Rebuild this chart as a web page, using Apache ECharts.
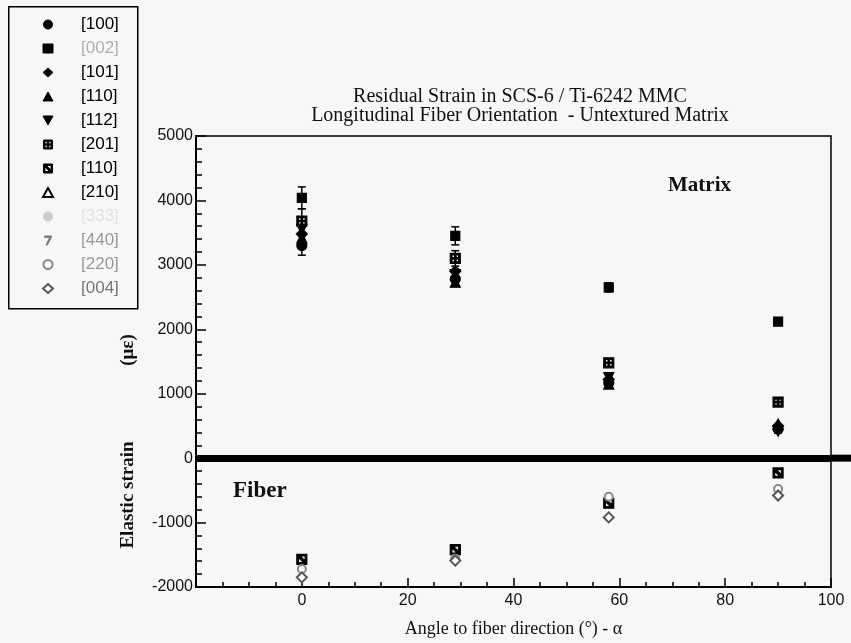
<!DOCTYPE html>
<html>
<head>
	<meta charset="utf-8">
	<title>Residual Strain in SCS-6 / Ti-6242 MMC</title>
	<script src="https://cdn.jsdelivr.net/npm/echarts@6/dist/echarts.min.js"></script>
	<style>
		body { margin: 0; background: #f7f7f7; }
		#main { width: 851px; height: 643px; }
	</style>
</head>
<body>
	<div id="main"></div>
<script>
	// angles (deg) where the measurements were taken
	var angles = [0, 29, 58, 90];
	var xTicks = [0, 20, 40, 60, 80, 100];

	// matrix reflections (micro-strain)
	var m100 = [3300, 2780, 1170, 450];
	var m002 = [4040, 3450, 2650, 2120];
	var m101 = [3480, 2900, 1220, 500];
	var m110 = [3420, 2730, 1150, 530];
	var m112 = [3550, 2850, 1250, 420];
	var m201 = [3680, 3100, 1480, 870];
	// fiber reflections
	var f110 = [-1570, -1420, -700, -230];
	var f210 = [];
	var f333 = [];
	var f440 = [];
	var f220 = [-1720, -1560, -600, -480];
	var f004 = [-1850, -1590, -920, -580];

	// error bar half widths
	var err002 = [170, 140, 70, 60];
	var err201 = [190, 120, 60, 50];
	var err100 = [150, 110, 80, 60];

	var labels = ['[100]', '[002]', '[101]', '[110]', '[112]', '[201]', '[110] ', '[210]', '[333]', '[440]', '[220]', '[004]'];

	function pts(vals) {
		var out = [];
		for (var i = 0; i < vals.length; i++) out.push([angles[i], vals[i]]);
		return out;
	}
	function bars(vals, errs) {
		var out = [];
		for (var i = 0; i < vals.length; i++) out.push([angles[i], vals[i] - errs[i], vals[i] + errs[i]]);
		return out;
	}

	var crossSq = 'path://M0,0H10V10H0Z M1.6,1.6V4.3H4.3V1.6Z M5.7,1.6V4.3H8.4V1.6Z M1.6,5.7V8.4H4.3V5.7Z M5.7,5.7V8.4H8.4V5.7Z';
	var diagSq = 'path://M0,0H10V10H0Z M1.6,1.6V8.4H8.4V1.6Z M1.6,1.6L3.2,1.6L8.4,6.8L8.4,8.4L6.8,8.4L1.6,3.2Z';
	var downTri = 'path://M0,0L10,0L5,9Z';
	var tick7 = 'path://M0,0H6V1.2L2.4,8H1.2L4.6,1.2H0Z';

	var defs = [
		{ name: labels[0], data: m100, symbol: 'circle', size: 10, color: '#000', text: '#000' },
		{ name: labels[1], data: m002, symbol: 'rect', size: 9, color: '#000', text: '#b0b0b0' },
		{ name: labels[2], data: m101, symbol: 'diamond', size: 11, color: '#000', text: '#000' },
		{ name: labels[3], data: m110, symbol: 'triangle', size: 10, color: '#000', text: '#000' },
		{ name: labels[4], data: m112, symbol: downTri, size: 10, color: '#000', text: '#000' },
		{ name: labels[5], data: m201, symbol: crossSq, size: 10, color: '#000', text: '#000' },
		{ name: labels[6], data: f110, symbol: diagSq, size: 10, color: '#000', text: '#000' },
		{ name: labels[7], data: f210, symbol: 'emptyTriangle', size: 10, color: '#000', text: '#000' },
		{ name: labels[8], data: f333, symbol: 'circle', size: 2, color: '#ccc', text: '#e2e2e2' },
		{ name: labels[9], data: f440, symbol: tick7, size: 7, color: '#777', text: '#999' },
		{ name: labels[10], data: f220, symbol: 'emptyCircle', size: 8, color: '#888', text: '#999' },
		{ name: labels[11], data: f004, symbol: 'emptyDiamond', size: 10, color: '#555', text: '#777' }
	];

	var series = [];
	var legendData = [];
	defs.forEach(function (d) {
		series.push({
			name: d.name,
			type: 'scatter',
			data: pts(d.data),
			symbol: d.symbol,
			symbolSize: d.size,
			itemStyle: { color: d.color, borderColor: d.color, borderWidth: 1.2, opacity: 1 },
			z: 5
		});
		legendData.push({ name: d.name, icon: d.symbol, itemStyle: { borderWidth: 1 }, textStyle: { color: d.text } });
	});

	// error bars
	var errSets = [bars(m002, err002), bars(m201, err201), bars(m100, err100)];
	errSets.forEach(function (set) {
		series.push({
			type: 'custom',
			silent: true,
			z: 4,
			data: set,
			renderItem: function (params, api) {
				var top = api.coord([api.value(0), api.value(2)]);
				var bot = api.coord([api.value(0), api.value(1)]);
				var st = { stroke: '#000', lineWidth: 1.5 };
				return {
					type: 'group',
					children: [
						{ type: 'line', shape: { x1: top[0], y1: top[1], x2: bot[0], y2: bot[1] }, style: st },
						{ type: 'line', shape: { x1: top[0] - 4, y1: top[1], x2: top[0] + 4, y2: top[1] }, style: st },
						{ type: 'line', shape: { x1: bot[0] - 4, y1: bot[1], x2: bot[0] + 4, y2: bot[1] }, style: st }
					]
				};
			}
		});
	});

	// thick zero line
	series[0].markLine = {
		silent: true,
		symbol: 'none',
		label: { show: false },
		lineStyle: { color: '#000', width: 7, type: 'solid' },
		data: [{ yAxis: 0 }]
	};

	var option = {
		backgroundColor: '#f7f7f7',
		animation: false,
		title: {
			text: 'Residual Strain in SCS-6 / Ti-6242 MMC\nLongitudinal Fiber Orientation  - Untextured Matrix',
			left: 515,
			top: 82,
			textAlign: 'center',
			textStyle: { fontFamily: 'Liberation Serif', fontWeight: 'normal', fontSize: 20, lineHeight: 19, color: '#111' }
		},
		legend: {
			orient: 'vertical',
			left: 42,
			top: 16,
			itemWidth: 10,
			itemHeight: 9,
			itemGap: 7,
			padding: 0,
			data: legendData,
			selectedMode: false,
			textStyle: { fontFamily: 'Liberation Sans', fontSize: 17, lineHeight: 17, padding: [0, 0, 0, 23] }
		},
		grid: {
			left: 196, right: 20, top: 136, bottom: 55,
			show: true, borderColor: '#000', borderWidth: 1.5, backgroundColor: 'transparent'
		},
		xAxis: {
			type: 'value',
			min: -20, max: 100, interval: 20,
			name: 'Angle to fiber direction (°) - α',
			nameLocation: 'middle',
			nameGap: 33,
			nameTextStyle: { fontFamily: 'Liberation Serif', fontSize: 18, color: '#111' },
			axisLine: { onZero: false, lineStyle: { color: '#000', width: 2 } },
			axisTick: { inside: true, length: 9, lineStyle: { color: '#000', width: 1.5 } },
			minorTick: { show: true, splitNumber: 4, length: 5, lineStyle: { color: '#000', width: 1.5 } },
			splitLine: { show: false },
			axisLabel: {
				fontFamily: 'Liberation Sans', fontSize: 16, color: '#111', margin: 6,
				formatter: function (v) { return xTicks.indexOf(v) >= 0 ? String(v) : ''; }
			}
		},
		yAxis: {
			type: 'value',
			min: -2000, max: 5000, interval: 1000,
			axisLine: { onZero: false, lineStyle: { color: '#000', width: 2 } },
			axisTick: { inside: true, length: 10, lineStyle: { color: '#000', width: 1.5 } },
			minorTick: { show: true, splitNumber: 5, length: 6, lineStyle: { color: '#000', width: 1.5 } },
			splitLine: { show: false },
			axisLabel: {
				fontFamily: 'Liberation Sans', fontSize: 16, color: '#111', margin: 3,
				formatter: function (v) { return String(v); }
			}
		},
		graphic: [
			{ type: 'rect', left: 8, top: 6, shape: { width: 129, height: 302 }, style: { fill: 'transparent', stroke: '#000', lineWidth: 1.5 }, z: -1 },
			{ type: 'text', x: 128, y: 495, rotation: Math.PI / 2, style: { text: 'Elastic strain', font: 'bold 19px "Liberation Serif"', fill: '#111', textAlign: 'center', textVerticalAlign: 'middle' } },
			{ type: 'text', x: 128, y: 350, rotation: Math.PI / 2, style: { text: '(με)', font: 'bold 19px "Liberation Serif"', fill: '#111', textAlign: 'center', textVerticalAlign: 'middle' } },
			{ type: 'text', left: 668, top: 175, style: { text: 'Matrix', font: 'bold 21px "Liberation Serif"', fill: '#111' } },
			{ type: 'text', left: 233, top: 480, style: { text: 'Fiber', font: 'bold 23px "Liberation Serif"', fill: '#111' } }
		],
		series: series
	};

	var chart = echarts.init(document.getElementById('main'));
	chart.setOption(option);

	// zero line runs past the frame to the page edge
	var y0 = chart.convertToPixel({ yAxisIndex: 0 }, 0);
	var xr = chart.convertToPixel({ xAxisIndex: 0 }, 100);
	chart.setOption({
		graphic: option.graphic.concat([
			{ type: 'rect', shape: { x: xr, y: y0 - 3.5, width: 851 - xr, height: 7 }, style: { fill: '#000' } }
		])
	});
</script>
</body>
</html>
